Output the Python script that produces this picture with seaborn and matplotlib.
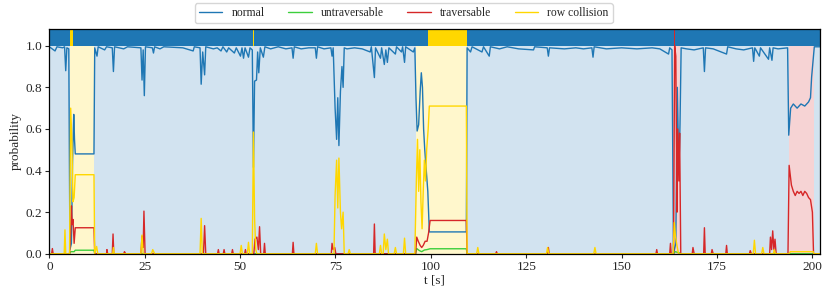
import pandas as pd
import seaborn as sns
import matplotlib
matplotlib.use("Agg")
import matplotlib.pyplot as plt

sns.set_theme(style="ticks")
plt.rcParams["font.family"] = ["Liberation Serif", "DejaVu Serif"]

classes = ["normal", "untraversable", "traversable", "row collision"]
colors = {"normal": "#1f77b4", "untraversable": "#3ccf3c",
          "traversable": "#d62728", "row collision": "#ffd700"}

# (t [s], probability)
normal_pts = [
    (0, 0.995), (1.5, 0.975), (2.0, 0.995), (3.5, 0.99), (4.0, 0.995), (4.3, 0.88), (4.6, 0.99),
    (5.1, 0.985), (5.4, 0.02), (5.8, 0.05), (6.1, 0.45), (6.4, 0.67), (6.6, 0.55), (6.8, 0.48),
    (11.7, 0.48), (11.9, 0.99), (12.5, 0.95), (12.8, 0.995), (14.5, 0.98), (15.0, 0.995),
    (16.5, 0.99), (16.8, 0.876), (17.1, 0.995), (19.5, 0.985), (20.5, 0.995), (24.0, 0.99),
    (24.3, 0.835), (24.6, 0.98), (24.9, 0.76), (25.2, 0.995), (27.0, 0.99), (27.3, 0.965),
    (27.6, 0.995), (29, 0.985), (30, 0.995), (35, 0.99), (37.7, 0.975), (38, 0.995),
    (39.5, 0.99), (39.8, 0.815), (40.2, 0.97), (40.7, 0.86), (41.0, 0.995), (43, 0.985),
    (44, 0.99), (45.0, 0.975), (45.5, 0.995), (46.5, 0.97), (47, 0.99), (48.5, 0.965),
    (49.0, 0.99), (50.1, 0.95), (50.5, 0.99), (50.9, 0.94), (51.3, 0.99), (52.2, 0.945),
    (52.6, 0.99), (53.2, 0.98), (53.5, 0.415), (53.8, 0.83), (54.3, 0.835), (54.6, 0.97),
    (54.9, 0.87), (55.3, 0.99), (56.1, 0.945), (56.5, 0.995), (58, 0.985), (60, 0.995),
    (62, 0.985), (63.6, 0.99), (63.9, 0.94), (64.2, 0.995), (66, 0.985), (68, 0.99),
    (69.7, 0.99), (70.0, 0.94), (70.3, 0.995), (72, 0.985), (73.8, 0.99), (74.1, 0.95),
    (74.4, 0.99), (74.9, 0.7), (75.3, 0.55), (75.6, 0.75), (75.9, 0.52), (76.3, 0.78),
    (76.7, 0.9), (77.0, 0.8), (77.3, 0.99), (78, 0.985), (80, 0.99), (82, 0.985),
    (84.1, 0.97), (84.4, 0.995), (85.2, 0.847), (85.5, 0.99), (86.8, 0.94), (87.1, 0.99),
    (87.8, 0.91), (88.2, 0.98), (88.6, 0.92), (89, 0.99), (90.7, 0.96), (91.0, 0.995),
    (92.3, 0.97), (92.6, 0.995), (93.1, 0.92), (93.4, 0.995), (95.4, 0.97), (95.8, 0.99),
    (96.1, 0.75), (96.4, 0.59), (96.8, 0.62), (97.2, 0.78), (97.5, 0.87), (97.8, 0.8),
    (98.1, 0.6), (98.4, 0.5), (98.8, 0.4), (99.2, 0.3), (99.6, 0.105), (109.3, 0.105),
    (109.5, 0.99), (110.4, 0.97), (110.8, 0.995), (113.4, 0.97), (113.8, 0.995),
    (115.3, 0.95), (115.6, 0.995), (118, 0.985), (120, 0.995), (123, 0.985), (126.9, 0.98),
    (127.2, 0.995), (130.5, 0.99), (130.8, 0.95), (131.1, 0.99), (135, 0.985), (138, 0.99),
    (140, 0.985), (142.2, 0.99), (142.5, 0.945), (142.8, 0.995), (146, 0.985), (150, 0.99),
    (154, 0.985), (158, 0.99), (160, 0.985), (162.3, 0.96), (162.6, 0.99), (163.2, 0.98),
    (163.6, 0.0), (164.2, 0.05), (164.6, 0.8), (165.0, 0.38), (165.3, 0.62), (165.6, 0.99),
    (167, 0.985), (169, 0.98), (171.4, 0.99), (171.7, 0.876), (172.0, 0.99), (174, 0.985),
    (177.5, 0.96), (177.8, 0.995), (180, 0.985), (182, 0.98), (184.3, 0.99), (184.6, 0.925),
    (184.9, 0.99), (186.1, 0.95), (186.4, 0.99), (188.5, 0.935), (188.8, 0.99), (189.4, 0.93),
    (189.7, 0.99), (191, 0.985), (193.5, 0.99), (193.8, 0.57), (194.3, 0.7), (195, 0.72),
    (196, 0.7), (197, 0.72), (198, 0.71), (199, 0.73), (199.5, 0.75), (199.8, 0.85),
    (200.1, 0.91), (200.5, 0.995), (202, 0.995),
]

untraversable_pts = [
    (0, 0.0), (5.3, 0.0), (5.6, 0.01), (6.5, 0.01), (6.8, 0.017), (11.7, 0.017), (11.9, 0.0),
    (96.0, 0.0), (96.3, 0.025), (97.0, 0.015), (97.6, 0.01), (98.3, 0.018), (99.0, 0.02),
    (99.8, 0.024), (109.3, 0.024), (109.5, 0.0), (163.6, 0.0), (164.0, 0.01), (165.0, 0.005),
    (165.5, 0.0), (202, 0.0),
]

traversable_pts = [
    (0, 0.0), (0.6, 0.0), (0.8, 0.025), (1.0, 0.0), (5.3, 0.0), (5.6, 0.1), (5.8, 0.23),
    (6.0, 0.14), (6.2, 0.165), (6.5, 0.05), (6.8, 0.125), (11.7, 0.125), (11.9, 0.0),
    (15.0, 0.0), (15.1, 0.02), (15.3, 0.0), (16.5, 0.0), (16.7, 0.095), (16.9, 0.0),
    (19.5, 0.0), (19.7, 0.01), (20.0, 0.0), (24.0, 0.0), (24.3, 0.085), (24.6, 0.03),
    (24.8, 0.205), (25.1, 0.0), (40.4, 0.0), (40.7, 0.135), (41.0, 0.0), (44.1, 0.0),
    (44.3, 0.02), (44.5, 0.0), (45.6, 0.0), (45.8, 0.02), (46.0, 0.0), (47.8, 0.0),
    (48.0, 0.02), (48.2, 0.0), (51.2, 0.0), (51.4, 0.02), (51.6, 0.0), (53.6, 0.0),
    (53.9, 0.07), (54.4, 0.08), (54.8, 0.02), (55.1, 0.13), (55.4, 0.0), (56.2, 0.0),
    (56.4, 0.05), (56.6, 0.0), (63.7, 0.0), (63.9, 0.055), (64.1, 0.0), (73.9, 0.0),
    (74.1, 0.05), (74.4, 0.02), (74.8, 0.03), (75.1, 0.0), (85.0, 0.0), (85.2, 0.143),
    (85.4, 0.0), (96.0, 0.0), (96.3, 0.08), (96.7, 0.06), (97.2, 0.04), (97.6, 0.03),
    (98.0, 0.04), (98.5, 0.06), (99.0, 0.06), (99.4, 0.1), (99.8, 0.16), (109.3, 0.16),
    (109.5, 0.0), (117.0, 0.0), (117.2, 0.01), (117.4, 0.0), (130.6, 0.0), (130.8, 0.03),
    (131.0, 0.0), (159.0, 0.0), (159.2, 0.02), (159.4, 0.0), (162.6, 0.0), (162.8, 0.05),
    (163.0, 0.0), (163.6, 0.0), (163.9, 1.0), (164.2, 0.95), (164.5, 0.2), (164.7, 0.6),
    (165.0, 0.35), (165.2, 0.58), (165.5, 0.0), (168.5, 0.0), (168.7, 0.03), (169.0, 0.0),
    (171.5, 0.0), (171.7, 0.125), (171.9, 0.0), (173.5, 0.0), (173.7, 0.02), (174.0, 0.0),
    (177.3, 0.0), (177.5, 0.04), (177.7, 0.0), (183.5, 0.0), (183.7, 0.015), (184.0, 0.0),
    (188.8, 0.0), (189.0, 0.08), (189.3, 0.02), (189.6, 0.11), (189.9, 0.02), (190.2, 0.07),
    (190.5, 0.0), (193.6, 0.0), (193.9, 0.425), (194.5, 0.33), (195.0, 0.3), (195.5, 0.28),
    (196.0, 0.3), (196.5, 0.29), (197.0, 0.3), (197.5, 0.28), (198.0, 0.3), (198.5, 0.29),
    (199.0, 0.27), (199.5, 0.26), (200.0, 0.2), (200.3, 0.0), (202, 0.0),
]

row_collision_pts = [
    (0, 0.0), (3.9, 0.0), (4.1, 0.115), (4.3, 0.0), (5.3, 0.0), (5.6, 0.7), (5.9, 0.55),
    (6.2, 0.25), (6.5, 0.27), (6.8, 0.38), (11.7, 0.38), (11.9, 0.0), (12.4, 0.035),
    (12.7, 0.0), (16.6, 0.0), (16.8, 0.03), (17.0, 0.0), (24.0, 0.0), (24.3, 0.09),
    (24.6, 0.0), (26.8, 0.0), (27.1, 0.02), (27.6, 0.0), (39.5, 0.0), (39.8, 0.17),
    (40.1, 0.0), (50.0, 0.0), (50.3, 0.04), (50.6, 0.0), (51.9, 0.0), (52.2, 0.055),
    (52.5, 0.0), (53.2, 0.0), (53.5, 0.585), (53.8, 0.17), (54.1, 0.02), (54.4, 0.0),
    (69.7, 0.0), (70.0, 0.05), (70.3, 0.0), (74.6, 0.0), (74.9, 0.28), (75.3, 0.45),
    (75.6, 0.22), (75.9, 0.46), (76.3, 0.2), (76.6, 0.12), (77.0, 0.2), (77.3, 0.0),
    (78.3, 0.0), (78.6, 0.02), (78.9, 0.0), (86.5, 0.0), (86.8, 0.04), (87.1, 0.0),
    (87.5, 0.0), (87.8, 0.095), (88.2, 0.02), (88.6, 0.07), (88.9, 0.0), (90.4, 0.0),
    (90.7, 0.03), (91.0, 0.0), (92.8, 0.0), (93.1, 0.075), (93.4, 0.0), (95.8, 0.0),
    (96.2, 0.35), (96.5, 0.55), (96.8, 0.3), (97.1, 0.5), (97.4, 0.25), (97.7, 0.12),
    (98.0, 0.3), (98.3, 0.45), (98.6, 0.35), (98.9, 0.5), (99.3, 0.6), (99.6, 0.71),
    (109.3, 0.71), (109.5, 0.0), (112.0, 0.0), (112.3, 0.03), (112.6, 0.0), (130.3, 0.0),
    (130.6, 0.03), (130.9, 0.0), (142.7, 0.0), (143.0, 0.03), (143.3, 0.0), (163.5, 0.0),
    (163.8, 0.15), (164.1, 0.085), (164.5, 0.04), (164.9, 0.0), (184.5, 0.0), (184.8, 0.065),
    (185.1, 0.0), (186.7, 0.0), (187.0, 0.03), (187.3, 0.0), (189.8, 0.0), (190.0, 0.02),
    (190.3, 0.0), (193.9, 0.0), (194.2, 0.01), (200.2, 0.01), (200.4, 0.0), (202, 0.0),
]

# predicted class regions (background) and true class strip (top band)
pred_regions = [
    (0, 5.45, "normal"), (5.45, 11.8, "row collision"), (11.8, 96.2, "normal"),
    (96.2, 109.4, "row collision"), (109.4, 163.4, "normal"), (163.4, 165.3, "traversable"),
    (165.3, 193.9, "normal"), (193.9, 200.4, "traversable"), (200.4, 202, "normal"),
]
true_regions = [
    (0, 5.45, "normal"), (5.45, 6.1, "row collision"), (6.1, 53.35, "normal"),
    (53.35, 53.6, "row collision"), (53.6, 99.3, "normal"), (99.3, 109.4, "row collision"),
    (109.4, 163.6, "normal"), (163.6, 164.1, "traversable"), (164.1, 202, "normal"),
]

series = {"normal": normal_pts, "untraversable": untraversable_pts,
          "traversable": traversable_pts, "row collision": row_collision_pts}
df = pd.concat(
    [pd.DataFrame(pts, columns=["t", "p"]).assign(cls=name) for name, pts in series.items()],
    ignore_index=True)

fig = plt.figure(figsize=(8.22, 2.91), dpi=100)
ax = fig.add_axes([0.06, 0.128, 0.9376, 0.772])

for start, end, cls in pred_regions:
    ax.fill_between([start, end], 0, 1, color=colors[cls], alpha=0.2, lw=0)
for start, end, cls in true_regions:
    ax.fill_between([start, end], 1, 1.08, color=colors[cls], lw=0)

sns.lineplot(data=df, x="t", y="p", hue="cls", hue_order=classes, palette=colors,
             estimator=None, linewidth=1.0, ax=ax)

ax.set_xlim(0, 202)
ax.set_ylim(0, 1.08)
ax.set_xticks([0, 25, 50, 75, 100, 125, 150, 175, 200])
ax.set_yticks([0.0, 0.2, 0.4, 0.6, 0.8, 1.0])
ax.set_xlabel("t [s]", fontsize=9.5, labelpad=1)
ax.set_ylabel("probability", fontsize=9.5, labelpad=3)
ax.tick_params(labelsize=9.5, length=3, width=0.8, pad=2)
for s in ax.spines.values():
    s.set_color("black")
    s.set_linewidth(0.9)

sns.move_legend(ax, "upper center", bbox_to_anchor=(0.46, 1.115), ncol=4, title=None,
                frameon=True, fontsize=8.4, borderaxespad=0, borderpad=0.35)

fig.savefig("out.png", dpi=100)
